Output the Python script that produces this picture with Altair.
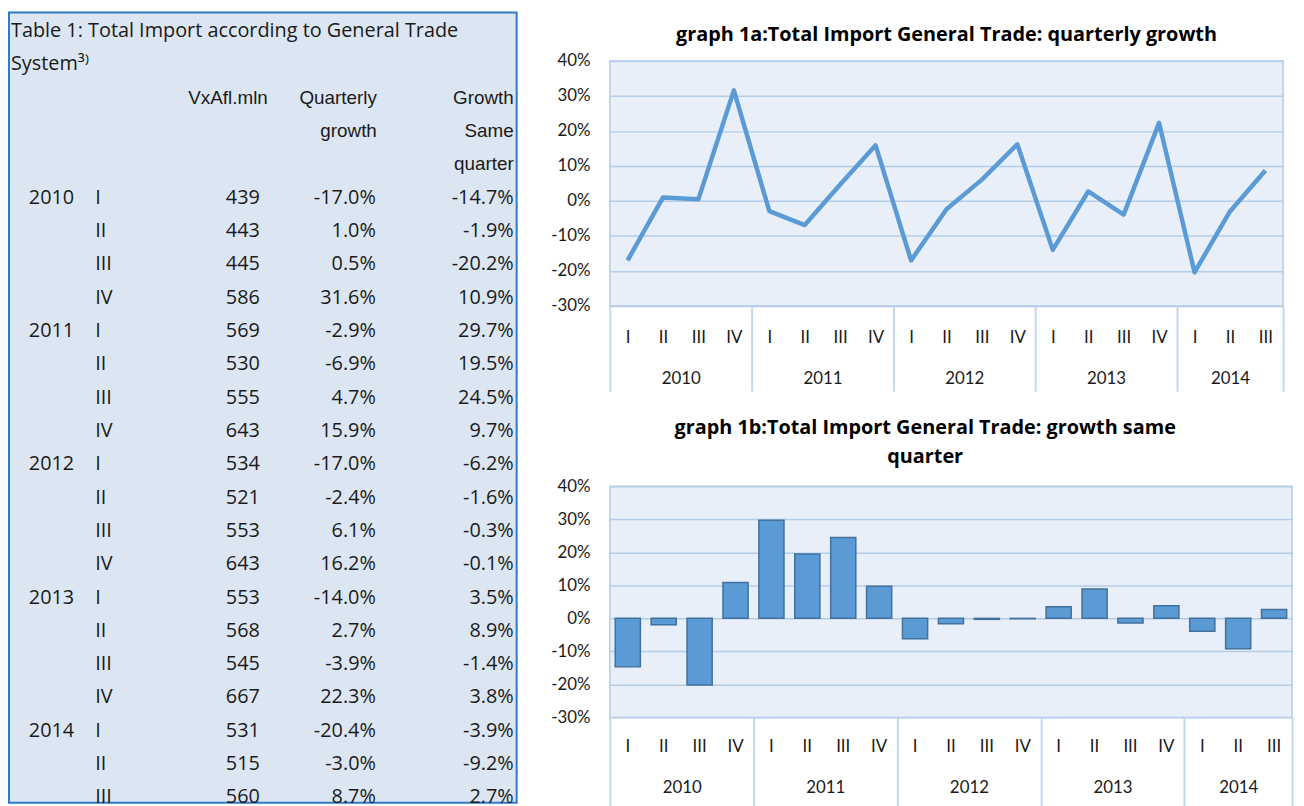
import altair as alt
import pandas as pd

# ---------------- data ----------------
years = [2010] * 4 + [2011] * 4 + [2012] * 4 + [2013] * 4 + [2014] * 3
quarters = ["I", "II", "III", "IV"] * 4 + ["I", "II", "III"]
import_mln = [439, 443, 445, 586, 569, 530, 555, 643, 534, 521, 553, 643,
              553, 568, 545, 667, 531, 515, 560]
quarterly_growth = [-17.0, 1.0, 0.5, 31.6, -2.9, -6.9, 4.7, 15.9, -17.0, -2.4,
                    6.1, 16.2, -14.0, 2.7, -3.9, 22.3, -20.4, -3.0, 8.7]
same_quarter_growth = [-14.7, -1.9, -20.2, 10.9, 29.7, 19.5, 24.5, 9.7, -6.2,
                       -1.6, -0.3, -0.1, 3.5, 8.9, -1.4, 3.8, -3.9, -9.2, 2.7]
y_ticks = [-0.3, -0.2, -0.1, 0.0, 0.1, 0.2, 0.3, 0.4]

table_title = ["Table 1: Total Import according to General Trade", "System\u00b3\u207e"]
header_value = ["VxAfl.mln"]
header_qg = ["Quarterly", "growth"]
header_sg = ["Growth", "Same", "quarter"]
title_a = "graph 1a:Total Import General Trade: quarterly growth"
title_b = ["graph 1b:Total Import General Trade: growth same", "quarter"]

# ---------------- styles / layout ----------------
TABLE_BG = "#dce6f2"
BORDER = "#2f79c8"
PLOT_BG = "#e9eff8"
GRID = "#b4cce8"
SEP = "#c3d7ee"
LINE = "#5b9bd5"
BAR_STROKE = "#41719c"
TXT = "#1a1a1a"
FONT = "Open Sans"
HFONT = "Liberation Sans"
AXFONT = "Lato"
TFONT = "Open Sans"

PAGE_TOP = 8          # page y where the table panel starts
PLOT_TOP = 58         # page y of the plot tops (table origin aligns with chart 1a)
PAGE_BOTTOM = 806
TABLE_W = 512
TABLE_H = PAGE_BOTTOM - PLOT_TOP
FIRST_ROW_Y, ROW_STEP = 28, 33.6   # page y of first table line, line step
COL_X = {"title": 2, "year": 20, "quarter": 87, "value": 253, "value_head": 261,
         "qg": 370, "qg_head": 371, "sg": 509, "sg_head": 509}

# ---------------- derived tables ----------------
period = [f"{y}-{q}" for y, q in zip(years, quarters)]
n = len(period)
year_list = list(dict.fromkeys(years))
year_counts = [years.count(y) for y in year_list]
year_start = []
acc = 0
for c in year_counts:
    year_start.append(acc)
    acc += c
year_mid = [s + c / 2 for s, c in zip(year_start, year_counts)]
year_bounds = year_start + [n]

series = pd.DataFrame({
    "period": period,
    "qg": [v / 100 for v in quarterly_growth],
    "sg": [v / 100 for v in same_quarter_growth],
})
yr_df = pd.DataFrame({"mid": year_mid, "year": year_list})
bd_df = pd.DataFrame({"b": year_bounds})

# table text
left_rows, head_rows, num_rows = [], [], []
for i, t in enumerate(table_title):
    left_rows.append({"row": i, "xpos": COL_X["title"], "text": t})
for j, t in enumerate(header_value):
    head_rows.append({"row": 2 + j, "xpos": COL_X["value_head"], "text": t})
for j, t in enumerate(header_qg):
    head_rows.append({"row": 2 + j, "xpos": COL_X["qg_head"], "text": t})
for j, t in enumerate(header_sg):
    head_rows.append({"row": 2 + j, "xpos": COL_X["sg_head"], "text": t})
prev_year = None
for i in range(n):
    r = 5 + i
    if years[i] != prev_year:
        left_rows.append({"row": r, "xpos": COL_X["year"], "text": str(years[i])})
        prev_year = years[i]
    left_rows.append({"row": r, "xpos": COL_X["quarter"], "text": quarters[i]})
    num_rows.append({"row": r, "xpos": COL_X["value"], "text": str(import_mln[i])})
    num_rows.append({"row": r, "xpos": COL_X["qg"], "text": f"{quarterly_growth[i]:.1f}%"})
    num_rows.append({"row": r, "xpos": COL_X["sg"], "text": f"{same_quarter_growth[i]:.1f}%"})


def page_to_row(py):
    return (py - FIRST_ROW_Y) / ROW_STEP


xscale_t = alt.Scale(domain=[0, TABLE_W], nice=False, zero=False)
yscale_t = alt.Scale(domain=[page_to_row(PLOT_TOP), page_to_row(PAGE_BOTTOM)],
                     nice=False, zero=False, reverse=True)
tx = alt.X("xpos:Q", scale=xscale_t, axis=None)
ty = alt.Y("row:Q", scale=yscale_t, axis=None)

panel = alt.Chart(pd.DataFrame({"k": [0]})).mark_rect(
    fill=TABLE_BG, stroke=BORDER, strokeWidth=2
).encode(
    x=alt.datum(0, scale=xscale_t, axis=None), x2=alt.datum(TABLE_W),
    y=alt.datum(page_to_row(PAGE_TOP + 1), scale=yscale_t, axis=None),
    y2=alt.datum(page_to_row(PAGE_BOTTOM)),
)
t_left = alt.Chart(pd.DataFrame(left_rows)).mark_text(
    align="left", baseline="middle", font=FONT, fontSize=20, color=TXT
).encode(x=tx, y=ty, text="text:N")
t_head = alt.Chart(pd.DataFrame(head_rows)).mark_text(
    align="right", baseline="middle", font=HFONT, fontSize=19, color=TXT
).encode(x=tx, y=ty, text="text:N")
t_num = alt.Chart(pd.DataFrame(num_rows)).mark_text(
    align="right", baseline="middle", font=FONT, fontSize=20, color=TXT
).encode(x=tx, y=ty, text="text:N")

table = alt.layer(panel, t_left, t_head, t_num).properties(
    width=TABLE_W, height=TABLE_H,
    view=alt.ViewBackground(fill=None, stroke=None),
)

# ---------------- charts ----------------
year_expr = "[" + ",".join(str(y) for y in year_list) + "][indexof([" + \
    ",".join(repr(m) for m in year_mid) + "], datum.value)]"


def y_enc(field):
    return alt.Y(
        f"{field}:Q",
        scale=alt.Scale(domain=[y_ticks[0], y_ticks[-1]], nice=False, zero=False),
        axis=alt.Axis(title=None, values=y_ticks, tickCount=len(y_ticks) * 3,
                      labelExpr="round(datum.value*100) + '%'",
                      grid=True, gridColor=GRID, gridWidth=1.5, domain=False, ticks=False,
                      labelPadding=20, labelFont=AXFONT, labelFontSize=17, labelColor=TXT,
                      labelOverlap=False, minExtent=90, maxExtent=90),
    )


def q_axis(pad):
    return alt.Axis(orient="bottom", title=None, labelExpr="split(datum.value, '-')[1]",
                    labelAngle=0, ticks=False, domain=False, grid=False, labelPadding=pad,
                    labelFont=AXFONT, labelFontSize=17, labelColor=TXT, labelOverlap=False)


def year_layers(year_pad, sep_size):
    xs = alt.Scale(domain=[0, n], nice=False, zero=False)
    yl = alt.Chart(yr_df).mark_point(opacity=0).encode(
        x=alt.X("mid:Q", scale=xs,
                axis=alt.Axis(orient="bottom", title=None, values=year_mid,
                              tickCount=len(year_mid) * 3, labelExpr=year_expr,
                              ticks=False, domain=False, grid=False, labelPadding=year_pad,
                              labelFont=AXFONT, labelFontSize=17, labelColor=TXT,
                              labelFlush=False, labelOverlap=False)),
        y=alt.datum(0))
    sl = alt.Chart(bd_df).mark_point(opacity=0).encode(
        x=alt.X("b:Q", scale=xs,
                axis=alt.Axis(orient="bottom", title=None, values=year_bounds,
                              tickCount=len(year_bounds) * 3, labels=False,
                              ticks=True, tickSize=sep_size, tickColor=SEP, tickWidth=2,
                              domain=False, grid=False)),
        y=alt.datum(0))
    return yl, sl


line = alt.Chart(series).mark_line(color=LINE, strokeWidth=4.5, strokeJoin="round").encode(
    x=alt.X("period:N", sort=period, axis=q_axis(24)),
    y=y_enc("qg"),
)
yl_a, sl_a = year_layers(65, 86)
chart_a = alt.layer(line, yl_a, sl_a).resolve_scale(x="independent").resolve_axis(
    x="independent").properties(
    width=679, height=247,
    title=alt.Title(title_a, font=TFONT, fontSize=20, fontWeight="bold", color="#000",
                    offset=7, anchor="middle"),
    view=alt.ViewBackground(fill=PLOT_BG, stroke=GRID, strokeWidth=1.5),
)

bars = alt.Chart(series).mark_bar(color=LINE, stroke=BAR_STROKE, strokeWidth=1.5).encode(
    x=alt.X("period:N", sort=period, scale=alt.Scale(paddingInner=0.3, paddingOuter=0.15),
            axis=q_axis(21)),
    y=y_enc("sg"),
)
yl_b, sl_b = year_layers(63, 90)
chart_b = alt.layer(bars, yl_b, sl_b).resolve_scale(x="independent").resolve_axis(
    x="independent").properties(
    width=688, height=233,
    title=alt.Title(title_b, font=TFONT, fontSize=20, fontWeight="bold", color="#000",
                    lineHeight=29, offset=11, anchor="middle", dx=-26),
    view=alt.ViewBackground(fill=PLOT_BG, stroke=GRID, strokeWidth=1.5),
)

right = alt.vconcat(chart_a, chart_b, spacing=24)
chart = alt.hconcat(table, right, spacing=2).properties(padding=0, background="white")

chart.save("out.html", embed_options={"renderer": "svg", "actions": False})
